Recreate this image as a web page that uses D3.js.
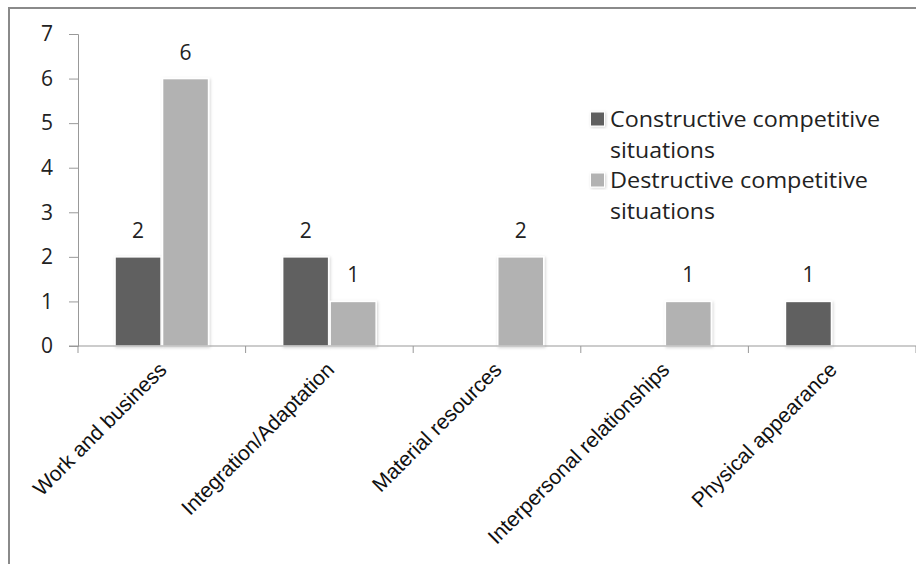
<!DOCTYPE html>
<html>
<head>
<meta charset="utf-8">
<script src="https://cdn.jsdelivr.net/npm/d3@7"></script>
<style>
  html, body { margin: 0; padding: 0; background: #fff; }
  svg { display: block; }
</style>
</head>
<body>
<svg id="chart" width="916" height="564"></svg>
<script>
// Competitive situations by domain
const categories = ["Work and business", "Integration/Adaptation", "Material resources", "Interpersonal relationships", "Physical appearance"];
const seriesNames = ["Constructive competitive situations", "Destructive competitive situations"];
const constructive = [2, 2, 0, 0, 1];
const destructive = [6, 1, 2, 1, 0];
const yTicks = [0, 1, 2, 3, 4, 5, 6, 7];
const colors = ["#606060", "#b2b2b2"];

const svg = d3.select("#chart");
const W = 916, H = 564;
const plotLeft = 78, plotRight = 916, plotTop = 34, plotBottom = 346;

// outer frame
svg.append("rect")
  .attr("x", 9).attr("y", 8)
  .attr("width", W + 20).attr("height", H + 20)
  .attr("fill", "#fff").attr("stroke", "#8a8a8a").attr("stroke-width", 2);

// soft shadow for bars
const defs = svg.append("defs");
const f = defs.append("filter").attr("id", "shadow")
  .attr("x", "-20%").attr("y", "-20%").attr("width", "140%").attr("height", "140%");
f.append("feDropShadow").attr("dx", 1).attr("dy", 1).attr("stdDeviation", 1.5)
  .attr("flood-color", "#000").attr("flood-opacity", 0.18);

const x0 = d3.scaleBand().domain(categories).range([plotLeft, plotRight]).paddingInner(0).paddingOuter(0);
const groupW = 95;
const x1 = d3.scaleBand().domain(seriesNames).range([0, groupW]).padding(0);
const y = d3.scaleLinear().domain([0, 7]).range([plotBottom, plotTop]);

const axisColor = "#999";
const labelFont = "'Open Sans', sans-serif";

// y axis
const yAxis = svg.append("g").attr("transform", `translate(${plotLeft},0)`)
  .call(d3.axisLeft(y).tickValues(yTicks).tickSize(9).tickPadding(16).tickFormat(d3.format("d")));
yAxis.select(".domain").attr("stroke", axisColor);
yAxis.selectAll(".tick line").attr("stroke", axisColor);
yAxis.selectAll("text")
  .attr("font-family", labelFont).attr("font-size", 21).attr("fill", "#222");

// bars
const rows = categories.map((c, i) => ({ cat: c, vals: [constructive[i], destructive[i]] }));
const groups = svg.append("g").selectAll("g").data(rows).join("g")
  .attr("transform", d => `translate(${x0(d.cat) + (x0.bandwidth() - groupW) / 2},0)`);

groups.selectAll("rect").data(d => d.vals.map((v, j) => ({ v, j, s: seriesNames[j] })).filter(d => d.v > 0))
  .join("rect")
  .attr("x", d => x1(d.s) + 0.75)
  .attr("y", d => y(d.v))
  .attr("width", x1.bandwidth() - 1.5)
  .attr("height", d => y(0) - y(d.v))
  .attr("fill", d => colors[d.j])
  .attr("stroke", "#fff").attr("stroke-width", 1.5)
  .attr("filter", "url(#shadow)");

groups.selectAll("text.val").data(d => d.vals.map((v, j) => ({ v, j, s: seriesNames[j] })).filter(d => d.v > 0))
  .join("text").attr("class", "val")
  .attr("x", d => x1(d.s) + x1.bandwidth() / 2)
  .attr("y", d => y(d.v) - 19)
  .attr("text-anchor", "middle")
  .attr("font-family", labelFont).attr("font-size", 21).attr("fill", "#222")
  .text(d => d.v);

// x axis
const xAxisG = svg.append("g").attr("transform", `translate(0,${plotBottom})`);
xAxisG.append("line").attr("x1", plotLeft - 9).attr("x2", plotRight).attr("y1", 0).attr("y2", 0).attr("stroke", axisColor);
const boundaries = categories.map(c => x0(c)).concat([plotRight]);
xAxisG.selectAll("line.tick").data(boundaries).join("line").attr("class", "tick")
  .attr("x1", d => d).attr("x2", d => d).attr("y1", 0).attr("y2", 7).attr("stroke", axisColor);
xAxisG.selectAll("text").data(categories).join("text")
  .attr("transform", d => `translate(${x0(d) + x0.bandwidth() / 2 + 6},${25}) rotate(-45)`)
  .attr("text-anchor", "end")
  .attr("font-family", "'Liberation Sans', Arial, sans-serif").attr("font-size", 21).attr("fill", "#111")
  .text(d => d);

// legend
const legend = svg.append("g").attr("transform", "translate(590,0)");
const legendRows = [
  { lines: ["Constructive competitive", "situations"], widths: [270, 105], y: 127, c: colors[0] },
  { lines: ["Destructive competitive", "situations"], widths: [258, 105], y: 188, c: colors[1] }
];
legendRows.forEach(r => {
  legend.append("rect").attr("x", 0.5).attr("y", r.y - 15).attr("width", 14).attr("height", 14)
    .attr("fill", r.c).attr("stroke", "#fff").attr("stroke-width", 1).attr("filter", "url(#shadow)");
  r.lines.forEach((t, k) => {
    legend.append("text").attr("x", 20).attr("y", r.y + k * 31)
      .attr("font-family", labelFont).attr("font-size", 21).attr("fill", "#222")
      .attr("textLength", r.widths[k]).attr("lengthAdjust", "spacingAndGlyphs")
      .text(t);
  });
});
</script>
</body>
</html>
